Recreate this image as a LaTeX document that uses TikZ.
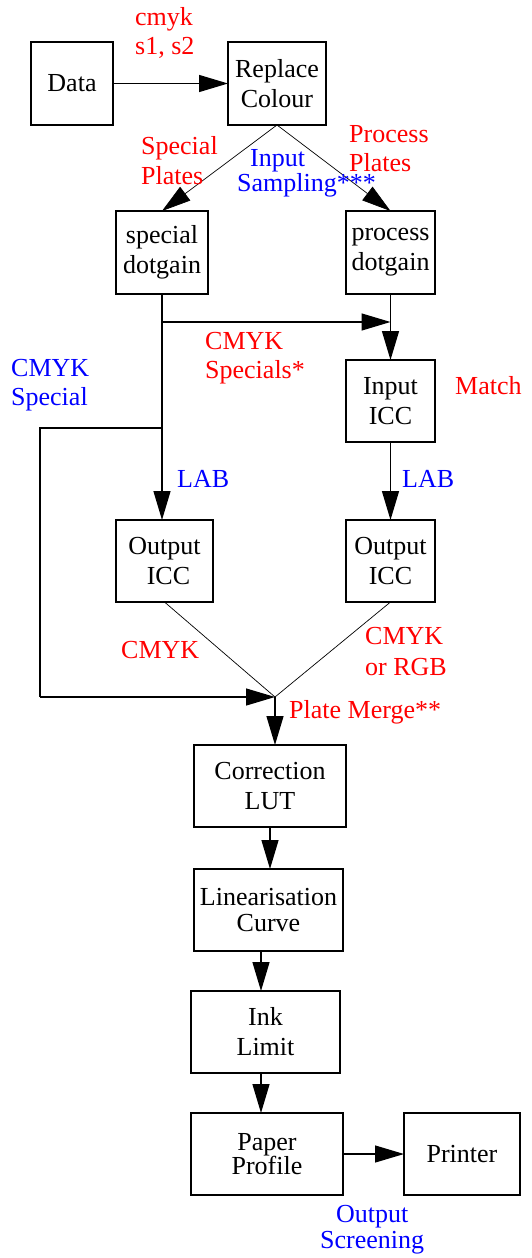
\documentclass[tikz,border=0pt]{standalone}
\usepackage{fontspec}
\setmainfont{Liberation Serif}
\usetikzlibrary{arrows.meta}
\begin{document}
\begin{tikzpicture}[x=1pt,y=-1pt,
  font=\fontsize{26}{30}\selectfont,
  box/.style={draw, line width=1.3pt, rectangle, align=center, inner sep=0pt, outer sep=0pt},
  conn/.style={line width=1.3pt, -{Triangle[length=29pt,width=17pt]}},
  plain/.style={line width=1.3pt},
  thin/.style={line width=0.7pt},
  thinconn/.style={line width=0.7pt, -{Triangle[length=29pt,width=17pt]}},
  lab/.style={inner sep=0pt, anchor=west, align=left},
  rlab/.style={lab, text=red},
  blab/.style={lab, text=blue}]
\useasboundingbox (0,0) rectangle (532,1258);
% boxes
\node[box, minimum width=82pt, minimum height=83pt] (data) at (72,83.5) {Data};
\node[box, minimum width=98pt, minimum height=83pt] (replace) at (277,83.5) {Replace\\Colour};
\node[box, minimum width=92pt, minimum height=83pt] (special) at (162,252.5) {special\\dotgain};
\node[box, minimum width=89pt, minimum height=83pt] (process) at (390.5,252.5) {process\\dotgain};
\node[box, minimum width=89pt, minimum height=82pt] (inicc) at (390.5,401) {Input\\ICC};
\node[box, minimum width=97pt, minimum height=82pt] (outl) at (164.5,561) {Output\\\hspace*{8pt}ICC};
\node[box, minimum width=89pt, minimum height=82pt] (outr) at (390.5,561) {Output\\ICC};
\node[box, minimum width=152pt, minimum height=82pt] (corr) at (270,786) {Correction\\LUT};
\node[box, minimum width=149pt, minimum height=82pt, font=\fontsize{26}{26}\selectfont] (lin) at (268.5,910) {Linearisation\\Curve};
\node[box, minimum width=149pt, minimum height=82pt] (ink) at (265.5,1032) {Ink\\Limit};
\node[box, minimum width=152pt, minimum height=82pt, font=\fontsize{26}{24}\selectfont] (paper) at (267,1154) {Paper\\Profile};
\node[box, minimum width=116pt, minimum height=82pt] (printer) at (462,1154) {Printer};
% helper coordinates
\coordinate (j1) at (162,322);
\coordinate (j2) at (390.5,322);
\coordinate (j3) at (162,428);
\coordinate (c1) at (40,428);
\coordinate (c2) at (40,697);
\coordinate (m) at (275,697);
\coordinate (x261) at (261,0);
% connectors
\draw[conn] (data.east) -- (replace.west);
\draw[thinconn] (replace.south) -- (special.north);
\draw[thinconn] (replace.south) -- (process.north);
\draw[conn] (special.south) -- (special.south |- outl.north);
\draw[conn] (j1) -- (j2);
\draw[conn] (process.south) -- (inicc.north);
\draw[conn] (inicc.south) -- (outr.north);
\draw[plain] (j3) -- (c1) -- (c2);
\draw[conn] (c2) -- (m);
\draw[thin] (outl.south) -- (m);
\draw[thin] (outr.south) -- (m);
\draw[conn] (m) -- (m |- corr.north);
\draw[conn] (corr.south) -- (corr.south |- lin.north);
\draw[conn] (lin.south -| x261) -- (ink.north -| x261);
\draw[conn] (ink.south -| x261) -- (paper.north -| x261);
\draw[conn] (paper.east) -- (printer.west);
% labels
\node[rlab, font=\fontsize{26}{29}\selectfont] (l1) at (135,33) {cmyk\\s1, s2};
\node[rlab] (l2) at (141,161) {Special\\Plates};
\node[rlab, font=\fontsize{26}{29}\selectfont] (l3) at (349,148.5) {Process\\Plates};
\node[blab, font=\fontsize{26}{23}\selectfont] (l4) at (237,173.5) {\hspace*{13pt}Input\\Sampling***};
\node[blab, font=\fontsize{26}{29}\selectfont] (l5) at (11,385.5) {CMYK\\Special};
\node[rlab, font=\fontsize{26}{29}\selectfont] (l6) at (205,358.5) {CMYK\\Specials*};
\node[rlab] (l7) at (455,386) {Match};
\node[blab] (l8) at (177,479) {LAB};
\node[blab] (l9) at (402,479) {LAB};
\node[rlab] (l10) at (121,650) {CMYK};
\node[rlab, font=\fontsize{26}{31}\selectfont] (l11) at (365,651.5) {CMYK\\or RGB};
\node[rlab] (l12) at (289,712) {Plate Merge**};
\node[blab, align=center, font=\fontsize{26}{26}\selectfont] (l13) at (320,1230) {Output\\Screening};
\end{tikzpicture}
\end{document}
